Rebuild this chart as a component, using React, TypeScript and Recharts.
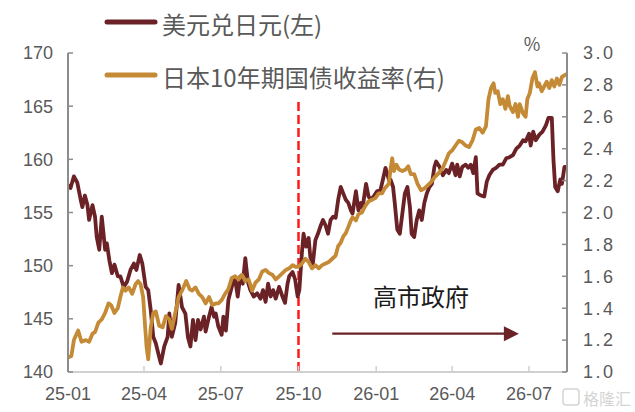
import React from "react";
import { LineChart, Line, XAxis, YAxis, ReferenceLine } from "recharts";

const MAROON = "#6b2226";
const GOLD = "#c48a35";
const GREY_TEXT = "#595959";
const SANS = '"Liberation Sans", Arial, sans-serif';
const CJK = '"Noto Sans CJK SC", "Noto Sans", sans-serif';

// x axis: days since 2025-01-01
const tickDays = [0, 90, 181, 273, 365, 455, 546];
const tickLabels = ["25-01", "25-04", "25-07", "25-10", "26-01", "26-04", "26-07"];
const leftTicks = [140, 145, 150, 155, 160, 165, 170];
const rightTicks = [1.0, 1.2, 1.4, 1.6, 1.8, 2.0, 2.2, 2.4, 2.6, 2.8, 3.0];

// 美元兑日元 (left axis)
const usdJpyDays = [
  0, 3, 7, 11, 15, 17, 20, 23, 25, 29, 32, 34, 37, 40, 44, 46, 49, 52, 55, 59,
  62, 66, 70, 74, 78, 81, 85, 88, 92, 95, 98, 101, 104, 108, 110, 114, 118, 120, 123, 127,
  131, 135, 139, 142, 145, 148, 151, 154, 157, 161, 163, 167, 170, 173, 175, 178, 182, 184, 187, 190,
  192, 195, 198, 201, 204, 207, 210, 213, 216, 220, 224, 228, 231, 234, 237, 240, 243, 246, 250, 254,
  257, 260, 262, 266, 269, 272, 274, 277, 279, 282, 285, 287, 290, 293, 296, 299, 302, 305, 308, 311,
  314, 317, 320, 323, 326, 329, 332, 335, 337, 341, 344, 347, 349, 353, 356, 359, 362, 366, 370, 373,
  376, 380, 382, 385, 387, 390, 393, 396, 399, 402, 405, 407, 410, 413, 416, 419, 422, 425, 428, 431,
  434, 436, 440, 444, 448, 451, 455, 459, 461, 464, 467, 471, 474, 477, 480, 483, 485, 489, 493, 496,
  499, 503, 507, 511, 515, 519, 523, 527, 531, 535, 539, 542, 546, 548, 551, 554, 558, 562, 566, 569,
  573, 575, 577, 580, 583, 585, 588, 591,
];
const usdJpy = [
  157.6, 157.3, 158.4, 157.8, 156.2, 155.5, 156.6, 155.7, 154.3, 155.7, 154.6, 152.7, 151.5, 154.6, 151.5, 152.1, 150.5, 149.3, 150.1, 149.0,
  149.0, 148.0, 148.5, 149.6, 150.2, 149.6, 151.0, 150.2, 148.0, 147.7, 145.8, 143.3, 142.7, 141.4, 140.8, 142.4, 143.3, 145.5, 143.3, 144.6,
  148.2, 146.1, 145.5, 143.3, 142.4, 144.9, 143.0, 144.9, 144.0, 145.2, 143.8, 145.2, 146.1, 145.2, 145.5, 144.3, 143.5, 145.2, 143.9, 146.8,
  147.4, 148.3, 148.7, 147.1, 149.0, 148.3, 150.7, 148.5, 147.7, 147.1, 147.4, 146.9, 147.7, 146.6, 148.3, 147.1, 147.7, 146.9, 148.0, 147.1,
  146.5, 148.3, 149.0, 149.4, 148.7, 147.1, 147.7, 151.2, 153.0, 151.8, 152.6, 150.8, 150.2, 152.4, 153.0, 153.7, 154.3, 153.8, 153.0, 154.3,
  154.6, 154.5, 156.2, 157.4, 156.8, 156.2, 155.9, 155.2, 154.9, 157.0, 155.2, 155.9, 155.5, 157.7, 156.5, 156.2, 156.5, 157.0, 157.1, 158.1,
  159.2, 158.1, 158.1, 157.4, 155.9, 153.4, 153.0, 154.9, 156.8, 157.4, 155.5, 153.0, 152.7, 154.3, 155.2, 154.3, 155.9, 156.8, 157.4, 157.7,
  159.3, 159.8, 159.3, 158.5, 159.0, 158.7, 159.6, 158.5, 159.5, 158.4, 159.3, 159.5, 159.2, 159.5, 158.7, 160.2, 156.8, 156.6, 156.5, 157.9,
  158.5, 159.0, 159.2, 159.5, 159.5, 160.1, 160.2, 160.4, 161.0, 161.3, 161.8, 161.7, 162.4, 161.3, 162.6, 161.8, 162.3, 162.6, 163.2, 163.9,
  163.9, 159.9, 157.4, 157.0, 158.1, 157.7, 159.3, 159.3,
];

// 日本10年期国债收益率 (right axis, %)
const jgbDays = [
  0, 4, 7, 12, 16, 21, 25, 29, 32, 36, 40, 44, 48, 51, 55, 59, 62, 65, 68, 72,
  76, 80, 83, 86, 89, 91, 93, 95, 98, 101, 104, 108, 112, 116, 120, 123, 127, 131, 135, 140,
  144, 147, 151, 155, 159, 163, 167, 171, 175, 178, 182, 186, 190, 194, 198, 202, 206, 210, 214, 218,
  222, 226, 230, 234, 238, 242, 246, 250, 254, 258, 262, 266, 269, 273, 277, 281, 285, 289, 293, 297,
  301, 305, 309, 313, 317, 320, 323, 326, 329, 332, 335, 337, 341, 344, 348, 352, 356, 360, 364, 368,
  372, 375, 380, 382, 384, 386, 389, 392, 396, 400, 403, 406, 410, 414, 418, 422, 426, 430, 434, 438,
  444, 448, 451, 455, 459, 463, 467, 471, 475, 479, 483, 487, 491, 495, 498, 501, 504, 506, 509, 512,
  515, 518, 521, 523, 527, 530, 533, 535, 539, 542, 544, 547, 550, 553, 556, 558, 561, 564, 567, 570,
  573, 576, 579, 582, 585, 588, 591,
];
const jgb10y = [
  1.09, 1.10, 1.20, 1.26, 1.19, 1.20, 1.19, 1.24, 1.25, 1.31, 1.33, 1.37, 1.43, 1.42, 1.37, 1.40, 1.47, 1.53, 1.51, 1.53,
  1.49, 1.55, 1.57, 1.55, 1.47, 1.31, 1.16, 1.08, 1.28, 1.37, 1.38, 1.29, 1.28, 1.35, 1.33, 1.27, 1.37, 1.47, 1.51, 1.57,
  1.52, 1.51, 1.53, 1.49, 1.47, 1.43, 1.47, 1.42, 1.43, 1.43, 1.45, 1.49, 1.52, 1.59, 1.60, 1.58, 1.61, 1.57, 1.58, 1.51,
  1.56, 1.58, 1.63, 1.64, 1.62, 1.61, 1.58, 1.60, 1.62, 1.64, 1.65, 1.67, 1.66, 1.66, 1.68, 1.71, 1.69, 1.65, 1.67, 1.65,
  1.67, 1.68, 1.69, 1.71, 1.73, 1.79, 1.81, 1.85, 1.87, 1.91, 1.95, 1.97, 1.95, 1.99, 2.00, 2.04, 2.07, 2.08, 2.09, 2.12,
  2.12, 2.15, 2.18, 2.27, 2.34, 2.26, 2.30, 2.27, 2.26, 2.27, 2.29, 2.24, 2.24, 2.18, 2.14, 2.15, 2.17, 2.19, 2.22, 2.24,
  2.28, 2.33, 2.37, 2.39, 2.42, 2.45, 2.44, 2.42, 2.41, 2.45, 2.52, 2.53, 2.50, 2.54, 2.71, 2.78, 2.81, 2.75, 2.76, 2.68,
  2.71, 2.65, 2.73, 2.67, 2.63, 2.68, 2.60, 2.68, 2.62, 2.60, 2.71, 2.75, 2.84, 2.88, 2.79, 2.81, 2.76, 2.79, 2.82, 2.78,
  2.83, 2.79, 2.84, 2.80, 2.85, 2.86, 2.87,
];

// annotations
const takaichiDay = 273;
const dashTop = 165.4;
const arrowFrom = 313;
const arrowTo = 534;
const arrowLevel = 143.6;

const usdData = usdJpyDays.map((day, i) => ({ day, value: usdJpy[i] }));
const jgbData = jgbDays.map((day, i) => ({ day, value: jgb10y[i] }));

const ArrowShape = (p: any) => {
  const { x1, y1, x2, y2 } = p;
  return (
    <g>
      <line x1={x1} y1={y1} x2={x2 - 10} y2={y2} stroke={MAROON} strokeWidth={2.2} />
      <polygon points={`${x2},${y2} ${x2 - 15},${y2 - 7.5} ${x2 - 15},${y2 + 7.5}`} fill={MAROON} />
    </g>
  );
};

const tickStyle = { fill: GREY_TEXT, fontSize: 18, fontFamily: SANS };

export default function App() {
  return (
    <div style={{ position: "absolute", left: 0, top: 0, width: 635, height: 412, background: "#fff" }}>
      <LineChart width={635} height={412} margin={{ top: 53, right: 0, bottom: 0, left: 0 }}>
        <XAxis
          type="number"
          dataKey="day"
          domain={[0, 591]}
          ticks={tickDays}
          interval={0}
          tickFormatter={(d) => tickLabels[tickDays.indexOf(d)] ?? ""}
          height={40}
          tick={tickStyle}
          tickSize={-6}
          tickMargin={21}
          axisLine={{ stroke: "#d0d0d0", strokeWidth: 2 }}
          tickLine={{ stroke: "#d0d0d0", strokeWidth: 1.5 }}
          allowDataOverflow
        />
        <YAxis
          yAxisId="left"
          domain={[140, 170]}
          ticks={leftTicks}
          interval={0}
          width={68}
          tick={tickStyle}
          tickSize={-5}
          tickMargin={20}
          axisLine={{ stroke: "#8c8c8c", strokeWidth: 2 }}
          tickLine={{ stroke: "#8c8c8c", strokeWidth: 1.5 }}
        />
        <YAxis
          yAxisId="right"
          orientation="right"
          domain={[1.0, 3.0]}
          ticks={rightTicks}
          interval={0}
          width={68}
          tick={{ ...tickStyle, letterSpacing: 2.5 }}
          tickFormatter={(v) => Number(v).toFixed(1)}
          tickSize={-5}
          tickMargin={21}
          axisLine={{ stroke: "#8c8c8c", strokeWidth: 2 }}
          tickLine={{ stroke: "#8c8c8c", strokeWidth: 1.5 }}
        />
        <ReferenceLine
          yAxisId="left"
          segment={[{ x: takaichiDay, y: dashTop }, { x: takaichiDay, y: 140 }]}
          stroke="#ff1a1a"
          strokeWidth={2.5}
          strokeDasharray="9 4"
        />
        <ReferenceLine
          yAxisId="left"
          segment={[{ x: arrowFrom, y: arrowLevel }, { x: arrowTo, y: arrowLevel }]}
          shape={ArrowShape}
        />
        <Line
          yAxisId="left"
          data={usdData}
          dataKey="value"
          type="linear"
          stroke={MAROON}
          strokeWidth={3.8}
          strokeLinejoin="round"
          dot={false}
          isAnimationActive={false}
        />
        <Line
          yAxisId="right"
          data={jgbData}
          dataKey="value"
          type="linear"
          stroke={GOLD}
          strokeWidth={3.8}
          strokeLinejoin="round"
          dot={false}
          isAnimationActive={false}
        />
      </LineChart>
      <svg
        width={635}
        height={412}
        style={{ position: "absolute", left: 0, top: 0, pointerEvents: "none" }}
      >
        <line x1={107} y1={22} x2={155} y2={22} stroke={MAROON} strokeWidth={5} strokeLinecap="round" />
        <text x={162} y={23} dominantBaseline="central" fontSize={24} fontFamily={CJK} fill={GREY_TEXT}>
          美元兑日元(左)
        </text>
        <line x1={107} y1={75} x2={155} y2={75} stroke={GOLD} strokeWidth={5} strokeLinecap="round" />
        <text x={162} y={76} dominantBaseline="central" fontSize={24} fontFamily={CJK} fill={GREY_TEXT}>
          日本10年期国债收益率(右)
        </text>
        <text x={532} y={43} textAnchor="middle" dominantBaseline="central" fontSize={18} fontFamily={CJK} fill={GREY_TEXT}>
          %
        </text>
        <text x={373} y={295} dominantBaseline="central" fontSize={24} fontFamily={CJK} fill="#1a1a1a">
          高市政府
        </text>
        <rect x={563} y={389} width={16} height={16} rx={3} fill="none" stroke="#d4d4d4" strokeWidth={1.5} />
        <text x={583} y={398} dominantBaseline="central" fontSize={16} fontFamily={CJK} fill="#d4d4d4">
          格隆汇
        </text>
      </svg>
    </div>
  );
}
